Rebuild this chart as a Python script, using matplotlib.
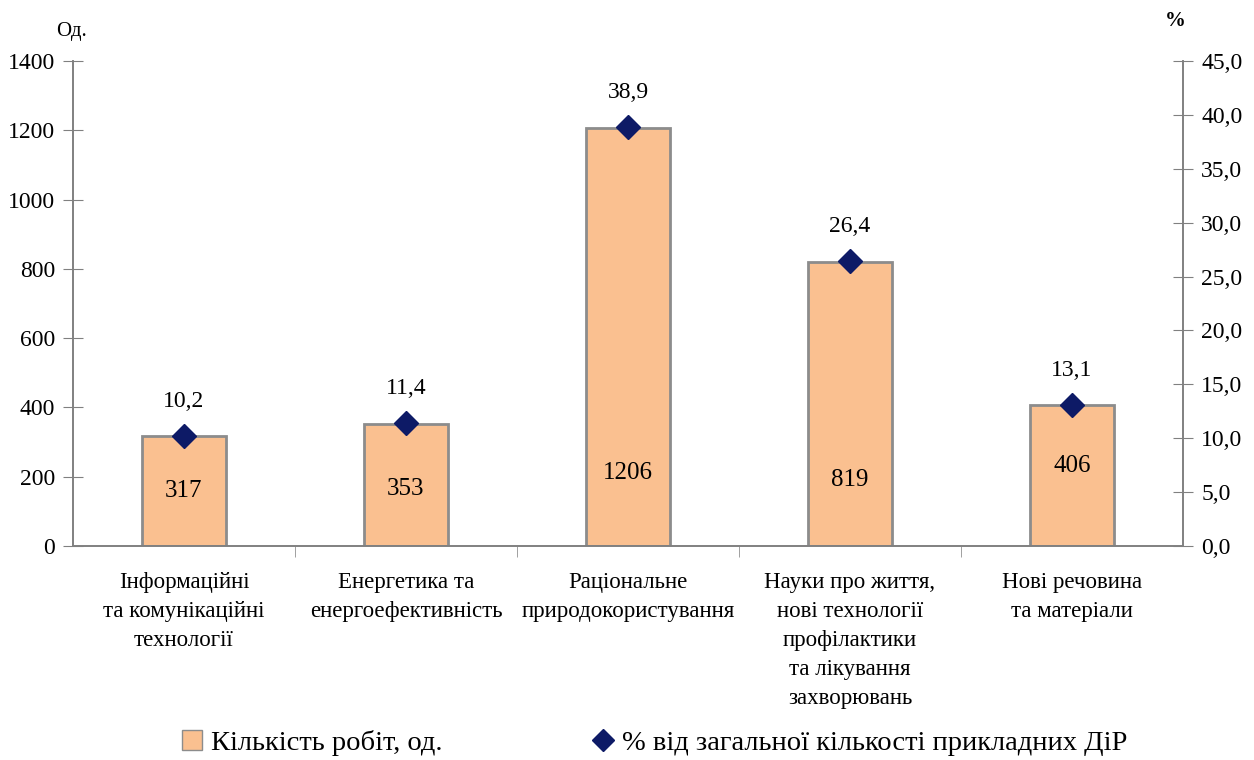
import matplotlib
matplotlib.use("Agg")
import matplotlib.pyplot as plt
from matplotlib.ticker import FuncFormatter, MultipleLocator
from matplotlib.lines import Line2D
from matplotlib.patches import Patch

categories = ["Інформаційні\nта комунікаційні\nтехнології",
              "Енергетика та\nенергоефективність",
              "Раціональне\nприродокористування",
              "Науки про життя,\nнові технології\nпрофілактики\nта лікування\nзахворювань",
              "Нові речовина\nта матеріали"]
counts = [317, 353, 1206, 819, 406]
percents = [10.2, 11.4, 38.9, 26.4, 13.1]

plt.rcParams['font.family'] = ['Liberation Serif', 'DejaVu Serif']

fig = plt.figure(figsize=(12.54, 7.6), dpi=100)
ax = fig.add_axes([0.0582, 0.2816, 0.8852, 0.6381])
ax2 = ax.twinx()

x = list(range(len(categories)))
bar_color = "#FAC090"
edge_color = "#8C8C8C"
ax.bar(x, counts, width=0.375, color=bar_color, edgecolor=edge_color, linewidth=2, zorder=2)
ax.set_xlim(-0.5, len(categories) - 0.5)
ax.set_ylim(0, 1400)
ax.yaxis.set_major_locator(MultipleLocator(200))
ax2.set_ylim(0, 45)
ax2.yaxis.set_major_locator(MultipleLocator(5))
ax2.yaxis.set_major_formatter(FuncFormatter(lambda v, p: f"{v:.1f}".replace(".", ",")))

ax2.plot(x, percents, linestyle="none", marker="D", markersize=12, color="#0D1A66",
         markeredgecolor="#0D1A66", zorder=5)

# count labels inside bars
label_y = [160, 165, 210, 190, 232]
for xi, c, ly in zip(x, counts, label_y):
    ax.text(xi, ly, str(c), ha="center", va="center", fontsize=18, zorder=3)
# percent labels above markers
for xi, p in zip(x, percents):
    ax2.annotate(f"{p:.1f}".replace(".", ","), (xi, p), xytext=(0, 25), textcoords="offset points",
                 ha="center", va="center", fontsize=17)

for a in (ax, ax2):
    a.spines["top"].set_visible(False)
    for s in a.spines.values():
        s.set_color("#808080")
        s.set_linewidth(1.2)

ax.set_xticks([i + 0.5 for i in x[:-1]], minor=True)
ax.set_xticks(x)
ax.set_xticklabels(categories, fontsize=16.5, linespacing=1.5)
ax.tick_params(axis="x", which="major", length=0, pad=19)
ax.tick_params(axis="x", which="minor", length=8, direction="out", color="#909090")
ax.tick_params(axis="y", direction="inout", length=14, color="#808080", labelsize=17, pad=6)
ax2.tick_params(axis="y", direction="inout", length=14, color="#808080", labelsize=17, pad=6)

fig.text(0.0690, 0.959, "Од.", fontsize=15, ha="right", va="center")
fig.text(0.9370, 0.972, "%", fontsize=15, fontweight="bold", ha="center", va="center")

handles = [Patch(facecolor=bar_color, edgecolor=edge_color, linewidth=1),
           Line2D([], [], linestyle="none", marker="D", markersize=11, color="#0D1A66")]
labels = ["Кількість робіт, од.", "% від загальної кількості прикладних ДіР"]
fig.legend(handles, labels, loc="center", bbox_to_anchor=(0.522, 0.022), ncol=2, frameon=False,
           fontsize=20.5, columnspacing=5.3, handlelength=0.7, handletextpad=0.3)

fig.savefig("out.png", dpi=100)
